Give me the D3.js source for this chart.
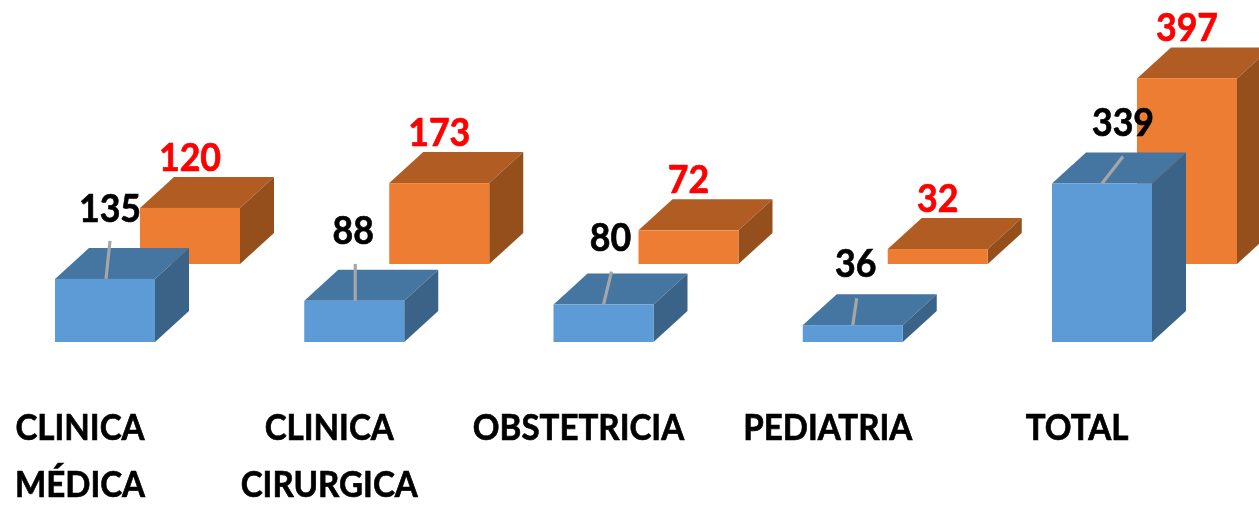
<!DOCTYPE html>
<html><head><meta charset="utf-8">
<script src="https://cdn.jsdelivr.net/npm/d3@7/dist/d3.min.js"></script>
<style>html,body{margin:0;padding:0;background:#fff;overflow:hidden}svg{display:block}</style>
</head><body><svg id="c" width="1259" height="505"></svg>
<script>
const categories = [["CLINICA","MÉDICA"],["CLINICA","CIRURGICA"],["OBSTETRICIA"],["PEDIATRIA"],["TOTAL"]];
const blueValues = [135,88,80,36,339];
const orangeValues = [120,173,72,32,397];
// manually placed data labels of the blue series, relative to the bar
const blueLabelDx = [55,49,57,53,71];
const blueLabelDy = [-57,-57,-54,-48,-48];
const leaderEndDx = [55,51,58,54,71];
const leaderEndDy = [-38,-37,-33,-27,-27];
const leaderStartDx = [51,51,50,50,50];

const svg = d3.select("#c");
const defs = svg.append("defs");
defs.append("filter").attr("id","soft").attr("x","-5%").attr("y","-5%").attr("width","110%").attr("height","110%")
  .append("feGaussianBlur").attr("stdDeviation",0.55);
const W = 100, DX = 34, DY = 31, ORANGE_DX = 85, ORANGE_DY = 78;
const x = d3.scaleBand().domain(d3.range(5)).range([55,55+249.25*5]);
const y = d3.scaleLinear().domain([0,400]).range([342,342-187]);
const root = svg.append("g").attr("filter","url(#soft)");
const fontFam = "Lato,sans-serif";

function box(g,x0,base,top,cols){
  const line = d3.line();
  g.append("path").attr("fill",cols[1]).attr("d",line([[x0,top],[x0+DX,top-DY],[x0+W+DX,top-DY],[x0+W,top]])+"Z");
  g.append("path").attr("fill",cols[2]).attr("d",line([[x0+W,top],[x0+W+DX,top-DY],[x0+W+DX,base-DY],[x0+W,base]])+"Z");
  g.append("rect").attr("x",x0).attr("y",top).attr("width",W).attr("height",base-top).attr("fill",cols[0]);
}
const orangeCols = ["#ed7d31","#b05c22","#94501d"];
const blueCols = ["#5b9bd5","#4475a1","#3b6488"];

orangeValues.forEach((v,i)=>box(root.append("g"),x(i)+ORANGE_DX,y(0)-ORANGE_DY,y(v)-ORANGE_DY,orangeCols));
blueValues.forEach((v,i)=>box(root.append("g"),x(i),y(0),y(v),blueCols));

root.append("g").selectAll("line").data(blueValues).join("line")
  .attr("x1",(v,i)=>x(i)+leaderStartDx[i]).attr("y1",(v,i)=>y(v))
  .attr("x2",(v,i)=>x(i)+leaderEndDx[i]).attr("y2",(v,i)=>y(v)+leaderEndDy[i])
  .attr("stroke","#a6a6a6").attr("stroke-width",3.2);

const txt = (sel)=>sel.attr("font-family",fontFam).attr("font-weight",700).attr("text-anchor","middle").attr("stroke-width",0.7);
root.append("g").selectAll("text").data(blueValues).join("text").call(txt)
  .attr("font-size",38).attr("fill","#000").attr("stroke","#000")
  .attr("transform",(v,i)=>`translate(${x(i)+blueLabelDx[i]},${y(v)+blueLabelDy[i]}) scale(0.94,1)`)
  .text(d=>d);
root.append("g").selectAll("text").data(orangeValues).join("text").call(txt)
  .attr("font-size",38).attr("fill","#ff0000").attr("stroke","#ff0000")
  .attr("transform",(v,i)=>`translate(${x(i)+ORANGE_DX+50},${y(v)-ORANGE_DY-37}) scale(0.94,1)`)
  .text(d=>d);

const cat = root.append("g").selectAll("text").data(categories).join("text").call(txt)
  .attr("font-size",37).attr("fill","#000").attr("stroke","#000")
  .attr("transform",(c,i)=>`translate(${x(i)+25},440) scale(0.895,1)`);
cat.selectAll("tspan").data(d=>d).join("tspan").attr("x",0).attr("dy",(d,j)=>j?57:0).text(d=>d);
</script></body></html>
